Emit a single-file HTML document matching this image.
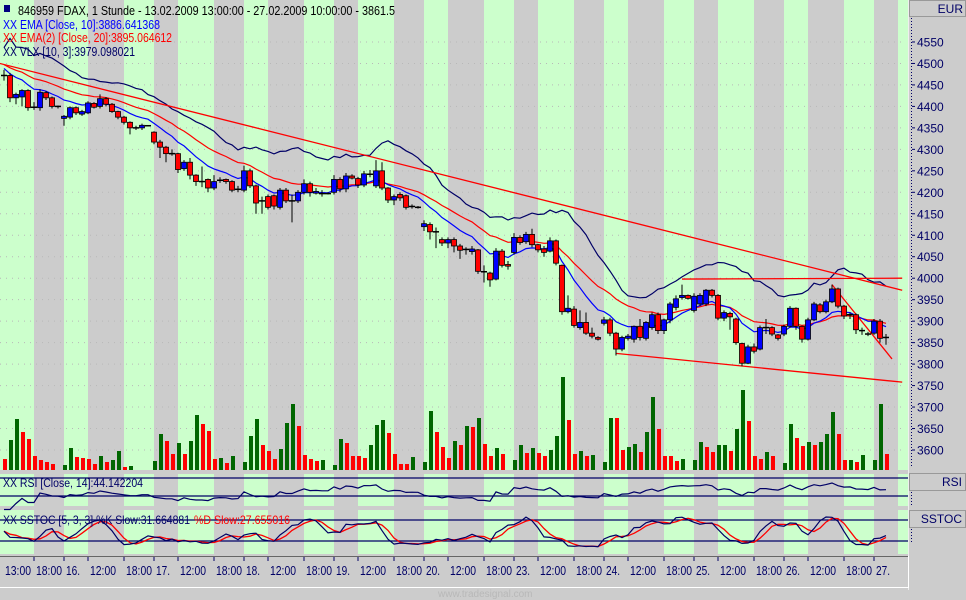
<!DOCTYPE html>
<html><head><meta charset="utf-8"><style>
html,body{margin:0;padding:0;background:#cccccc;}
svg{display:block;font-family:"Liberation Sans",sans-serif;}
</style></head><body>
<svg id="chart" width="966" height="600" xmlns="http://www.w3.org/2000/svg">
<rect x="0" y="0" width="966" height="600" fill="#cccccc"/>
<g id="stripes"></g>
<g id="grid"></g>
<g id="vol"></g>
<g id="lines"></g>
<g id="trend"></g>
<g id="candles"></g>
<g id="legend">
  <rect x="4" y="5" width="6" height="7" fill="#000080"/>
  <text x="18" y="15" font-size="13" textLength="377" lengthAdjust="spacingAndGlyphs" fill="#000">846959  FDAX, 1 Stunde - 13.02.2009 13:00:00 - 27.02.2009 10:00:00 - 3861.5</text>
  <text x="3" y="29" font-size="13" textLength="157" lengthAdjust="spacingAndGlyphs" fill="#0000ff">XX EMA [Close, 10]:3886.641368</text>
  <text x="3" y="42" font-size="13" textLength="169" lengthAdjust="spacingAndGlyphs" fill="#ff0000">XX EMA(2) [Close, 20]:3895.064612</text>
  <text x="3" y="56" font-size="13" textLength="132" lengthAdjust="spacingAndGlyphs" fill="#000066">XX VLX [10, 3]:3979.098021</text>
</g>
<g id="axis"></g>
<g id="xaxis"></g>
<text x="438" y="597" font-size="10" fill="#b8b8b8">www.tradesignal.com</text>
</svg>
<script>
const NS='http://www.w3.org/2000/svg';
// ---- data ----
const opens=[4470,4472,4420,4422,4437,4398,4397,4432,4420,4400,4372,4375,4397,4382,4385,4407,4400,4418,4405,4388,4375,4363,4350,4350,4355,4340,4317,4305,4290,4290,4255,4270,4240,4225,4230,4210,4228,4230,4225,4207,4205,4250,4215,4180,4190,4192,4165,4205,4180,4180,4200,4220,4198,4197,4197,4200,4230,4208,4238,4232,4217,4242,4215,4250,4210,4182,4195,4192,4167,4165,4120,4125,4108,4090,4082,4090,4075,4067,4062,4066,4015,4012,3998,4063,4032,4060,4095,4085,4102,4078,4068,4063,4087,4030,3922,3928,3885,3897,3872,3862,3895,3903,3872,3835,3860,3858,3888,3860,3885,3915,3878,3903,3932,3955,3960,3925,3940,3940,3972,3960,3907,3918,3905,3848,3802,3840,3835,3885,3885,3868,3870,3888,3930,3888,3858,3903,3938,3922,3945,3975,3935,3912,3915,3878,3870,3872,3900,3862];
const highs=[4485,4478,4432,4440,4440,4410,4440,4436,4423,4402,4380,4400,4400,4392,4412,4410,4428,4422,4408,4390,4378,4365,4355,4360,4356,4342,4322,4308,4300,4292,4275,4280,4242,4260,4232,4240,4235,4232,4228,4215,4262,4255,4218,4190,4195,4195,4210,4210,4195,4205,4230,4225,4210,4205,4200,4240,4235,4245,4242,4236,4250,4252,4275,4270,4212,4195,4200,4195,4172,4168,4135,4130,4118,4095,4095,4095,4080,4072,4075,4068,4030,4015,4070,4068,4040,4105,4100,4108,4115,4080,4075,4095,4090,4032,3960,3935,3925,3920,3885,3865,3910,3908,3875,3866,3870,3890,3905,3900,3920,3920,3906,3945,3960,3985,3962,3965,3965,3975,3975,3963,3925,3922,3908,3850,3845,3848,3890,3905,3888,3870,3892,3935,3932,3890,3908,3945,3942,3950,3985,3978,3938,3920,3918,3885,3875,3905,3905,3870];
const lows=[4460,4410,4405,4400,4390,4392,4390,4415,4395,4395,4355,4370,4380,4378,4382,4395,4395,4400,4385,4370,4358,4335,4345,4345,4354,4312,4280,4270,4285,4245,4250,4230,4215,4212,4200,4205,4222,4220,4200,4200,4200,4210,4150,4150,4160,4160,4160,4175,4130,4175,4195,4190,4195,4190,4195,4195,4200,4200,4230,4210,4212,4235,4210,4205,4175,4170,4180,4160,4162,4162,4110,4090,4070,4075,4070,4060,4045,4055,4055,4010,3990,3980,3995,4025,4020,4055,4078,4080,4072,4060,4050,4060,4030,3915,3918,3885,3880,3868,3860,3855,3890,3865,3820,3830,3855,3850,3855,3855,3880,3870,3870,3895,3925,3950,3950,3920,3935,3935,3955,3902,3900,3880,3845,3795,3800,3825,3832,3870,3865,3855,3865,3885,3880,3850,3855,3900,3918,3918,3942,3930,3905,3905,3870,3868,3865,3868,3850,3845];
const closes=[4472,4420,4428,4437,4397,4396,4433,4420,4400,4397,4377,4397,4385,4388,4408,4398,4418,4405,4388,4375,4363,4350,4349,4356,4355,4317,4305,4290,4290,4253,4270,4240,4225,4225,4210,4225,4228,4225,4205,4207,4250,4215,4175,4180,4165,4168,4205,4180,4180,4200,4220,4200,4202,4197,4197,4230,4208,4238,4233,4217,4243,4242,4250,4210,4182,4190,4187,4165,4167,4165,4127,4108,4108,4082,4090,4075,4065,4067,4068,4016,4015,3996,4063,4030,4028,4095,4083,4102,4078,4066,4060,4087,4035,3922,3930,3890,3897,3872,3865,3858,3903,3872,3835,3862,3865,3888,3862,3897,3915,3878,3903,3940,3952,3960,3953,3958,3960,3972,3960,3907,3920,3910,3850,3802,3840,3830,3885,3885,3870,3860,3888,3930,3888,3858,3903,3940,3922,3945,3975,3935,3912,3915,3880,3878,3870,3900,3860,3862];
const volumes=[1100,3000,5100,3800,3100,1400,1000,800,600,0,500,2200,1300,1200,1100,600,1400,800,1000,1900,300,400,0,0,0,900,3600,2900,1600,2700,1600,2900,5500,4600,3900,1100,1200,700,1400,0,800,3400,5100,2500,1900,1100,2100,4700,6600,4400,1500,1100,900,1000,0,500,3100,2700,1400,1400,1200,2500,4500,5000,3700,1600,600,600,1300,0,800,5900,3800,2300,1200,2900,2500,4400,4300,5200,2600,1400,2200,1600,0,1000,2500,1700,2200,1700,1400,2000,3400,9300,5000,1600,1900,1400,1500,0,800,5200,5200,2000,2300,2600,1800,3800,7300,4100,1400,1400,900,1100,0,1000,2800,2300,1800,2500,2500,1900,4100,8000,4900,1400,1100,1800,1400,0,700,4600,3200,2400,2800,2500,2800,3600,5800,3600,1000,1000,800,1500,0,1000,6600,1600];
const volUp=[0,1,1,0,0,0,0,0,0,0,1,1,0,0,0,0,1,0,1,1,0,1,0,0,0,1,1,0,0,1,0,1,1,0,0,0,1,0,1,0,1,1,1,0,0,0,1,1,1,0,0,0,0,1,0,1,1,0,0,0,0,1,1,1,0,0,0,0,1,0,1,1,0,0,0,1,0,1,0,1,0,0,1,0,0,1,1,0,1,0,0,1,1,1,0,0,1,0,1,0,1,1,0,0,1,1,0,1,1,0,0,0,0,1,0,1,1,0,0,1,1,0,1,1,0,0,0,1,0,0,1,1,0,0,1,0,1,1,1,0,0,1,0,1,0,1,1,0];
const priceTicks=[3600,3650,3700,3750,3800,3850,3900,3950,4000,4050,4100,4150,4200,4250,4300,4350,4400,4450,4500,4550];
const timeLabels=['18:00','16.','12:00','18:00','17.','12:00','18:00','18.','12:00','18:00','19.','12:00','18:00','20.','12:00','18:00','23.','12:00','18:00','24.','12:00','18:00','25.','12:00','18:00','26.','12:00','18:00','27.'];
const labelBars=[5,10,14,20,25,29,35,40,44,50,55,59,65,70,74,80,85,89,95,100,104,110,115,119,125,130,134,140,145];
const grayStripeBars=[[5,10],[14,20],[25,29],[35,40],[44,50],[55,59],[65,70],[74,80],[85,89],[95,100],[104,110],[115,119],[125,130],[134,140],[145,149]];
// trend lines in [barIndex, price]
const trendA=[[-0.7,4500],[149.7,3972]];
const trendB=[[102,3825],[149.7,3758]];
const trendC=[[113,3998],[149.7,4000]];
const trendD=[[138,3985],[148,3812]];
// ---- scales ----
const X0=4, DX=6;
const xb=i=>X0+DX*i;
const xEdge=i=>X0+DX*i;
const yP=p=>450-(p-3600)*0.4295;
const yV=v=>470-v/100;
const yR=v=>496-(v-30)*0.45;
const yS=v=>541-(v-20)*0.35;
function el(tag,attrs,parent){const e=document.createElementNS(NS,tag);for(const k in attrs)e.setAttribute(k,attrs[k]);parent.appendChild(e);return e;}
const $=id=>document.getElementById(id);
// stripes (main, rsi, sstoc)
const panels=[[0,470],[474,506],[510,554]];
panels.forEach(([t,b],pi)=>{
  const r=el('rect',{x:0,y:t,width:908,height:b-t,fill:'#ccffcc'},$('stripes'));
  
  
  grayStripeBars.forEach(([a,c])=>{
    const s=el('rect',{x:xEdge(a),y:t,width:xEdge(c)-xEdge(a),height:b-t,fill:'#cccccc'},$('stripes'));
    
    
  });
});
// grid
priceTicks.forEach(p=>{
  const l=el('line',{x1:0,x2:905,y1:yP(p),y2:yP(p),stroke:'#b8b8b8','stroke-dasharray':'1,5'},$('grid'));
  
  
});
// volume
volumes.forEach((v,i)=>{
  if(!v)return;
  const r=el('rect',{x:xb(i)-1,y:yV(v),width:4,height:470-yV(v),fill:volUp[i]?'#006600':'#ff0000'},$('vol'));
  
  
});
// indicators
function ema(arr,n,seed){const k=2/(n+1);let e=seed;return arr.map(c=>e=e+k*(c-e));}
const ema10=ema(closes,10,4492), ema20=ema(closes,20,4500);
function path(vals,yf,start){let d='';vals.forEach((v,i)=>{if(i<start||v==null)return;d+=(d?'L':'M')+xb(i)+','+yf(v).toFixed(1);});return d;}
// VLX-like volatility stop
const vlx=[];let mode=-1;
for(let i=0;i<closes.length;i++){
  const s=Math.max(0,i-9);let sm=0,ar=0,n=0;
  for(let j=s;j<=i;j++){sm+=closes[j];ar+=highs[j]-lows[j];n++;}
  sm/=n;ar/=n;
  let up=sm+2.2*ar+10, dn=sm-2.2*ar-10;
  if(mode<0&&closes[i]>up)mode=1; else if(mode>0&&closes[i]<dn)mode=-1;
  vlx.push(mode<0?up:dn);
}
// RSI 14
const rsi=[];let ag=0,al=0;
for(let i=1;i<closes.length;i++){const d=closes[i]-closes[i-1];const g=Math.max(d,0),l=Math.max(-d,0);
  if(i<=14){ag+=g/14;al+=l/14;}else{ag=(ag*13+g)/14;al=(al*13+l)/14;}
  rsi[i]=al===0?100:100-100/(1+ag/al);}
rsi[0]=rsi[1];
// stochastic 5,3,3
const raw=closes.map((c,i)=>{let hh=-1e9,ll=1e9;for(let j=Math.max(0,i-4);j<=i;j++){hh=Math.max(hh,highs[j]);ll=Math.min(ll,lows[j]);}return (c-ll)/(hh-ll||1)*100;});
const sma=(a,n)=>a.map((v,i)=>{let s=0,c=0;for(let j=Math.max(0,i-n+1);j<=i;j++){s+=a[j];c++;}return s/c;});
const sk=sma(raw,3), sd=sma(sk,3);
const L=(d,c,w,name)=>{const p=el('path',{d:d,fill:'none',stroke:c,'stroke-width':w},$('lines'));};
L(path(vlx,yP,0),'#000066',1.2,'vlx-line');
L(path(ema20,yP,0),'#ff0000',1.2,'ema20-line');
L(path(ema10,yP,0),'#0000ff',1.2,'ema10-line');
// sub-panel reference lines
[[478],[496],[520],[541]].forEach(([y])=>{const l=el('line',{x1:0,x2:908,y1:y,y2:y,stroke:'#000066','stroke-width':1.2},$('lines'));});
L(path(rsi,yR,0),'#000066',1.2,'rsi-line');
L(path(sd,yS,0),'#ff0000',1.3,'sstoc-d-line');
L(path(sk,yS,0),'#000066',1.2,'sstoc-k-line');
// trend lines
[[trendA,'trendline-upper'],[trendB,'trendline-lower'],[trendC,'range-top-line'],[trendD,'short-trendline']].forEach(([t,n])=>{
  const l=el('line',{x1:xb(t[0][0]),y1:yP(t[0][1]),x2:xb(t[1][0]),y2:yP(t[1][1]),stroke:'#ff0000','stroke-width':1.3},$('trend'));
  
  
});
// candles
closes.forEach((c,i)=>{
  const o=opens[i],x=xb(i);
  const w=el('line',{x1:x,x2:x,y1:yP(highs[i]),y2:yP(lows[i]),stroke:'#000','stroke-width':1},$('candles'));
  
  
  const top=yP(Math.max(o,c)),bot=yP(Math.min(o,c));
  if(bot-top<1.5){
    const d=el('line',{x1:x-3,x2:x+3,y1:top,y2:top,stroke:'#000','stroke-width':1.5},$('candles'));
    
    
  } else {
    const b=el('rect',{x:x-2.5,y:top,width:5,height:bot-top,fill:c>o?'#0000ff':'#ff0000',stroke:'#000','stroke-width':0.8},$('candles'));
    
    
  }
});
// price axis
const ax=$('axis');
el('rect',{x:908,y:0,width:58,height:600,fill:'#cccccc'},ax);
el('rect',{x:903,y:0,width:5,height:470,fill:'#ccffcc'},ax);
el('line',{x1:908.5,x2:908.5,y1:0,y2:590,stroke:'#eeeeee'},ax);
el('rect',{x:909.5,y:0.5,width:56,height:16,fill:'none',stroke:'#999'},ax);
const eur=el('text',{x:963,y:13,'font-size':12,'text-anchor':'end',fill:'#000066'},ax);eur.textContent='EUR';

el('line',{x1:911.5,x2:911.5,y1:18,y2:468,stroke:'#000066','stroke-dasharray':'1,2'},ax);
priceTicks.forEach(p=>{
  el('line',{x1:912,x2:915,y1:yP(p),y2:yP(p),stroke:'#000066'},ax);
  const t=el('text',{x:917,y:yP(p)+4.5,'font-size':12,fill:'#000066'},ax);t.textContent=p;
  
  
});
[['RSI',473,490],['SSTOC',510,527]].forEach(([n,t,b])=>{
  el('rect',{x:909.5,y:t+0.5,width:56,height:b-t,fill:'none',stroke:'#999'},ax);
  const tx=el('text',{x:962,y:t+13,'font-size':12,'text-anchor':'end',fill:'#000066'},ax);tx.textContent=n;
  
  
  el('line',{x1:911.5,x2:911.5,y1:b+2,y2:b+16,stroke:'#000066','stroke-dasharray':'1,2'},ax);
});
// panel titles
const rt=el('text',{x:3,y:487,'font-size':12,textLength:140,lengthAdjust:'spacingAndGlyphs',fill:'#000066'},$('legend'));rt.textContent='XX RSI [Close, 14]:44.142204';

const st=el('text',{x:3,y:524,'font-size':12,textLength:187,lengthAdjust:'spacingAndGlyphs',fill:'#000066'},$('legend'));st.textContent='XX SSTOC [5, 3, 3] %K Slow:31.664881';

const sd2=el('text',{x:194,y:524,'font-size':12,textLength:96,lengthAdjust:'spacingAndGlyphs',fill:'#ff0000'},$('legend'));sd2.textContent='%D Slow:27.655016';

// time axis
const xa=$('xaxis');
el('line',{x1:0,x2:908,y1:556.5,y2:556.5,stroke:'#666'},xa);
el('line',{x1:0,x2:909,y1:587.5,y2:587.5,stroke:'#ffffff'},xa);
el('line',{x1:908.5,x2:908.5,y1:556,y2:588,stroke:'#ffffff'},xa);
const ft=el('text',{x:5,y:575,'font-size':12.5,textLength:26,lengthAdjust:'spacingAndGlyphs',fill:'#000066'},xa);ft.textContent='13:00';

timeLabels.forEach((s,k)=>{
  const x=xEdge(labelBars[k]);
  el('line',{x1:x,x2:x,y1:557,y2:561,stroke:'#000066'},xa);
  const t=el('text',{x:x+2,y:575,'font-size':12.5,textLength:s.length>3?26:14,lengthAdjust:'spacingAndGlyphs',fill:'#000066'},xa);t.textContent=s;
  
  
});
</script>
</body></html>
